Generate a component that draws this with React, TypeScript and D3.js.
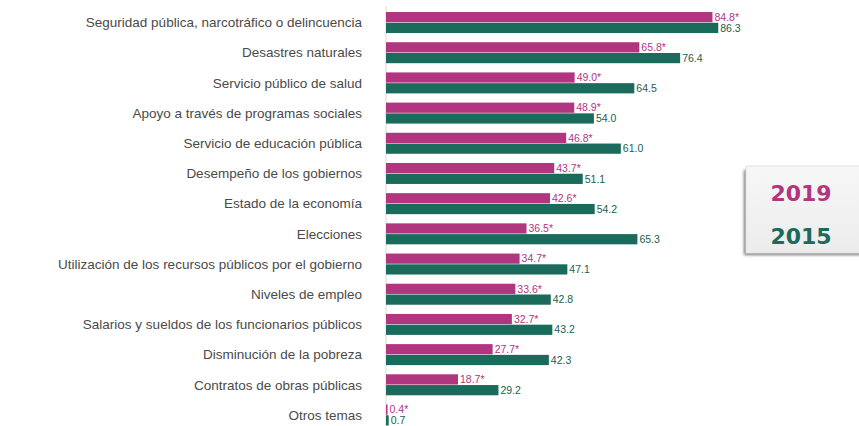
import React from "react";
import * as d3 from "d3";

const categories = [
  "Seguridad pública, narcotráfico o delincuencia",
  "Desastres naturales",
  "Servicio público de salud",
  "Apoyo a través de programas sociales",
  "Servicio de educación pública",
  "Desempeño de los gobiernos",
  "Estado de la economía",
  "Elecciones",
  "Utilización de los recursos públicos por el gobierno",
  "Niveles de empleo",
  "Salarios y sueldos de los funcionarios públicos",
  "Disminución de la pobreza",
  "Contratos de obras públicas",
  "Otros temas",
];
const values2019 = [84.8, 65.8, 49.0, 48.9, 46.8, 43.7, 42.6, 36.5, 34.7, 33.6, 32.7, 27.7, 18.7, 0.4];
const values2015 = [86.3, 76.4, 64.5, 54.0, 61.0, 51.1, 54.2, 65.3, 47.1, 42.8, 43.2, 42.3, 29.2, 0.7];
const seriesNames = ["2019", "2015"];
const colors: Record<string, string> = { "2019": "#b2367f", "2015": "#1a6b5b" };
const labelColors: Record<string, string> = { "2019": "#b2367f", "2015": "#1a5e50" };

export default function App() {
  const W = 859, H = 426;
  const y = d3.scaleBand<string>().domain(categories).range([7.5, 430]).paddingInner(0.305).paddingOuter(0.15);
  const ys = d3.scaleBand<string>().domain(seriesNames).range([0, y.bandwidth()]).paddingInner(0.05);
  const x = d3.scaleLinear().domain([0, 100]).range([386, 771]);
  const data: Record<string, number[]> = { "2019": values2019, "2015": values2015 };
  return (
    <svg width={W} height={H} style={{ position: "absolute", left: 0, top: 0, background: "#fff" }}
      fontFamily="'Liberation Sans', Arial, sans-serif">
      <defs>
        <linearGradient id="lg" x1="0" y1="0" x2="0" y2="1">
          <stop offset="0" stopColor="#f7f7f7" />
          <stop offset="1" stopColor="#ececec" />
        </linearGradient>
        <filter id="blur" x="-20%" y="-20%" width="140%" height="140%">
          <feGaussianBlur stdDeviation="1.5" />
        </filter>
      </defs>
      <line x1={x(0)} x2={x(0)} y1={6} y2={H} stroke="#d8d8d8" strokeWidth={1} />
      {categories.map((c, i) => (
        <g key={c}>
          <text x={362} y={(y(c) ?? 0) + y.bandwidth() / 2} dy="0.35em" textAnchor="end"
            fontSize={13.5} fill="#4a4a4a">{c}</text>
          {seriesNames.map((s) => {
            const v = data[s][i];
            const yy = (y(c) ?? 0) + (ys(s) ?? 0);
            return (
              <g key={s}>
                <rect x={x(0)} y={yy} width={x(v) - x(0)} height={ys.bandwidth()} fill={colors[s]} />
                <text x={x(v) + 2} y={yy + ys.bandwidth() / 2} dy="0.35em" fontSize={10.5}
                  fill={labelColors[s]}>{s === "2019" ? d3.format(".1f")(v) + "*" : d3.format(".1f")(v)}</text>
              </g>
            );
          })}
        </g>
      ))}
      <rect x={744} y={170} width={120} height={85} fill="#777" filter="url(#blur)" />
      <rect x={746} y={166} width={118} height={87} fill="url(#lg)" stroke="#e2e2e2" />
      <text x={801} y={193} dy="0.36em" textAnchor="middle" fontSize={22} fontWeight="bold"
        fontFamily="'DejaVu Sans', sans-serif" fill={colors["2019"]}>2019</text>
      <text x={801} y={236} dy="0.36em" textAnchor="middle" fontSize={22} fontWeight="bold"
        fontFamily="'DejaVu Sans', sans-serif" fill={colors["2015"]}>2015</text>
    </svg>
  );
}
